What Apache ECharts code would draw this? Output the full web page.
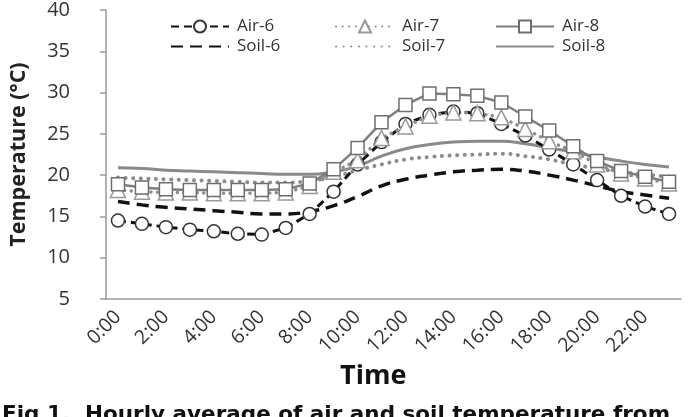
<!DOCTYPE html>
<html>
<head>
<meta charset="utf-8">
<script src="https://cdn.jsdelivr.net/npm/echarts@6/dist/echarts.min.js"></script>
<style>
  html, body { margin: 0; padding: 0; background: #fff; }
  #chart { width: 689px; height: 417px; }
</style>
</head>
<body>
<div id="chart"></div>
<script>
// hourly categories and tick labels
const hours = ['0:00', '1:00', '2:00', '3:00', '4:00', '5:00', '6:00', '7:00',
  '8:00', '9:00', '10:00', '11:00', '12:00', '13:00', '14:00', '15:00',
  '16:00', '17:00', '18:00', '19:00', '20:00', '21:00', '22:00', '23:00'];
const yTicks = [5, 40, 5]; // min, max, step

// values (°C)
const air6 = [14.5, 14.1, 13.7, 13.4, 13.2, 12.9, 12.8, 13.6, 15.3, 18.0, 21.3, 24.0,
  26.2, 27.3, 27.7, 27.5, 26.2, 24.8, 23.1, 21.3, 19.4, 17.5, 16.2, 15.3];
const air7 = [18.2, 18.0, 17.9, 17.9, 17.8, 17.8, 17.8, 17.9, 18.7, 20.4, 21.8, 24.5,
  25.9, 27.2, 27.6, 27.5, 27.0, 25.6, 24.1, 22.9, 21.3, 20.2, 19.6, 19.0];
const air8 = [18.9, 18.5, 18.3, 18.2, 18.2, 18.2, 18.2, 18.3, 19.0, 20.7, 23.3, 26.4,
  28.5, 29.9, 29.8, 29.6, 28.8, 27.1, 25.4, 23.5, 21.7, 20.5, 19.8, 19.2];
const soil6 = [16.8, 16.4, 16.1, 15.9, 15.7, 15.5, 15.3, 15.3, 15.6, 16.3, 17.4, 18.7,
  19.5, 20.0, 20.4, 20.6, 20.7, 20.5, 20.0, 19.4, 18.7, 18.0, 17.6, 17.2];
const soil7 = [19.7, 19.6, 19.5, 19.4, 19.3, 19.2, 19.1, 19.1, 19.3, 19.8, 20.6, 21.3,
  21.9, 22.2, 22.4, 22.5, 22.6, 22.3, 21.9, 21.3, 20.8, 20.4, 20.1, 19.8];
const soil8 = [20.9, 20.8, 20.6, 20.5, 20.4, 20.3, 20.2, 20.1, 20.1, 20.4, 21.1, 22.3,
  23.2, 23.7, 24.0, 24.1, 24.1, 23.8, 23.3, 22.8, 22.2, 21.7, 21.3, 21.0];

const FONT = 'Open Sans';
const myChart = echarts.init(document.getElementById('chart'), null, { renderer: 'canvas' });

// one legend column: air on top, soil (line only, no marker) below
function legendCol(left, air, soil) {
  return {
    left: left, top: 13, orient: 'vertical', itemGap: 3,
    itemWidth: 58, itemHeight: 15,
    data: [air, { name: soil, itemStyle: { opacity: 0 } }],
    textStyle: { fontFamily: FONT, fontSize: 17, color: '#333', padding: [0, 0, 0, 3] }
  };
}

let option = {
  animation: false,
  backgroundColor: '#fff',
  grid: { left: 106, right: 8, top: 10, bottom: 118 },
  legend: [
    legendCol(165, 'Air-6', 'Soil-6'),
    legendCol(330, 'Air-7', 'Soil-7'),
    legendCol(490, 'Air-8', 'Soil-8')
  ],
  xAxis: {
    type: 'category',
    data: hours,
    boundaryGap: true,
    axisLine: { lineStyle: { color: '#9a9a9a', width: 1.5 } },
    axisTick: { interval: 0, length: 6, lineStyle: { color: '#9a9a9a', width: 1.5 } },
    axisLabel: {
      interval: 1, rotate: 45, margin: 15,
      fontFamily: FONT, fontSize: 19.5, color: '#333'
    }
  },
  yAxis: {
    type: 'value',
    min: yTicks[0], max: yTicks[1], interval: yTicks[2],
    name: 'Temperature (°C)',
    nameLocation: 'middle',
    nameGap: 76,
    nameTextStyle: { fontFamily: FONT, fontSize: 21.5, fontWeight: 'bold', color: '#222' },
    splitLine: { show: false },
    axisLine: { show: true, lineStyle: { color: '#9a9a9a', width: 1.5 } },
    axisTick: { show: true, length: 6, lineStyle: { color: '#9a9a9a', width: 1.5 } },
    axisLabel: { margin: 36, fontFamily: FONT, fontSize: 20, color: '#333' }
  },
  graphic: [
    {
      type: 'text', left: 340, top: 363,
      style: { text: 'Time', font: 'bold 27px "Open Sans"', fill: '#111' }
    },
    {
      type: 'text', left: 2, top: 404,
      style: {
        text: 'Fig 1.  Hourly average of air and soil temperature from',
        font: 'bold 21.5px "DejaVu Sans"', fill: '#111'
      }
    }
  ],
  series: [
    {
      name: 'Soil-6', type: 'line', data: soil6, smooth: true,
      symbol: 'none', color: '#111',
      lineStyle: { color: '#111', width: 3.5, type: [12, 7] }
    },
    {
      name: 'Soil-7', type: 'line', data: soil7, smooth: true,
      symbol: 'none', color: '#8c8c8c',
      lineStyle: { color: '#8c8c8c', width: 4, type: [0.1, 7.5], cap: 'round' }
    },
    {
      name: 'Soil-8', type: 'line', data: soil8, smooth: true,
      symbol: 'none', color: '#8a8a8a',
      lineStyle: { color: '#8a8a8a', width: 3 }
    },
    {
      name: 'Air-6', type: 'line', data: air6,
      symbol: 'circle', symbolSize: 13, color: '#111',
      itemStyle: { color: '#fff', borderColor: '#333', borderWidth: 1.5 },
      lineStyle: { color: '#111', width: 3, type: [8, 5] }
    },
    {
      name: 'Air-7', type: 'line', data: air7,
      symbol: 'triangle', symbolSize: 15, color: '#8c8c8c',
      itemStyle: { color: '#fff', borderColor: '#999', borderWidth: 1.5 },
      lineStyle: { color: '#8c8c8c', width: 3.5, type: [0.1, 6.5], cap: 'round' }
    },
    {
      name: 'Air-8', type: 'line', data: air8,
      symbol: 'rect', symbolSize: 13, color: '#7a7a7a',
      itemStyle: { color: '#fff', borderColor: '#6e6e6e', borderWidth: 1.5 },
      lineStyle: { color: '#7f7f7f', width: 2.5 }
    }
  ]
};

myChart.setOption(option);
</script>
</body>
</html>
